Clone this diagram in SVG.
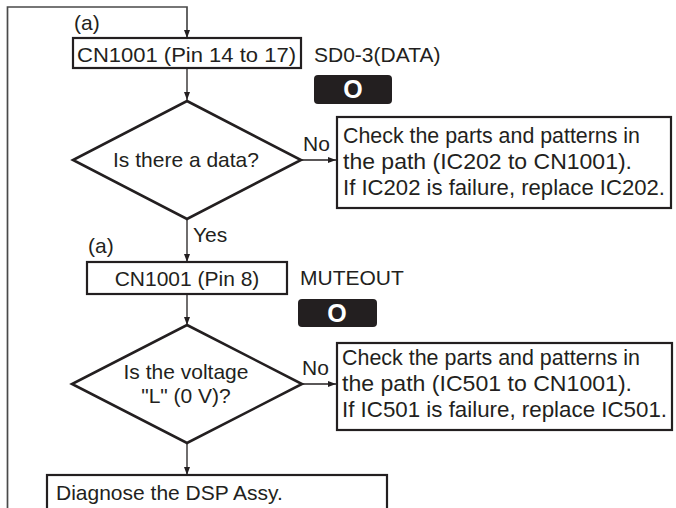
<svg xmlns="http://www.w3.org/2000/svg" width="676" height="508" viewBox="0 0 676 508">
<style>
text{font-family:"Liberation Sans",Arial,sans-serif;font-size:21px;fill:#231f20}
.bx{font-size:22px}
.box{fill:#fff;stroke:#231f20;stroke-width:2.2}
.dia{fill:#fff;stroke:#231f20;stroke-width:2.6;stroke-linejoin:miter}
.con{fill:none;stroke:#231f20;stroke-width:1.3}
.loop{stroke:#4a4a4a;stroke-width:1.7}
.badge{fill:#231f20}
.bt{fill:#fff;font-weight:bold;font-size:25px}
.mid{text-anchor:middle}
</style>
<defs>
<marker id="ah" markerWidth="8" markerHeight="6" refX="8" refY="3" orient="auto" markerUnits="userSpaceOnUse">
<path d="M0,0 L8,3 L0,6 Z" fill="#231f20"/>
</marker>
</defs>
<g id="connectors">
<path class="con loop" d="M7.5,508 V7 H187 V38" marker-end="url(#ah)"/>
<path class="con" d="M187,68 V100" marker-end="url(#ah)"/>
<path class="con" d="M301,160 H336" marker-end="url(#ah)"/>
<path class="con" d="M187,219 V262" marker-end="url(#ah)"/>
<path class="con" d="M187,294 V325" marker-end="url(#ah)"/>
<path class="con" d="M302,384 H336" marker-end="url(#ah)"/>
<path class="con" d="M187,443 V475" marker-end="url(#ah)"/>
<text x="74" y="30">(a)</text>
<text x="303" y="151">No</text>
<text x="193" y="242">Yes</text>
<text x="88" y="253">(a)</text>
<text x="302" y="375">No</text>
</g>
<g id="cn1001a">
<rect class="box" x="73" y="38" width="228" height="30"/>
<text x="77" y="62" textLength="219" lengthAdjust="spacingAndGlyphs">CN1001 (Pin 14 to 17)</text>
</g>
<g id="sd0">
<text x="314" y="62">SD0-3(DATA)</text>
<rect class="badge" x="314" y="75" width="78" height="29" rx="4"/>
<text class="bt mid" x="353" y="98">O</text>
</g>
<g id="q1">
<polygon class="dia" points="187,101 301,160 187,219 73,160"/>
<text class="mid" x="186" y="167">Is there a data?</text>
</g>
<g id="fix1">
<rect class="box" x="337" y="117" width="334" height="91"/>
<text class="bx" x="343" y="143" textLength="297" lengthAdjust="spacingAndGlyphs">Check the parts and patterns in</text>
<text class="bx" x="343" y="169" textLength="289" lengthAdjust="spacingAndGlyphs">the path (IC202 to CN1001).</text>
<text class="bx" x="343" y="195" textLength="322" lengthAdjust="spacingAndGlyphs">If IC202 is failure, replace IC202.</text>
</g>
<g id="cn1001b">
<rect class="box" x="87" y="262" width="200" height="32"/>
<text class="mid" x="187" y="286">CN1001 (Pin 8)</text>
</g>
<g id="muteout">
<text x="300" y="285">MUTEOUT</text>
<rect class="badge" x="298" y="299" width="79" height="28" rx="4"/>
<text class="bt mid" x="337" y="322">O</text>
</g>
<g id="q2">
<polygon class="dia" points="187,325 302,384 187,443 72,384"/>
<text class="mid" x="186" y="379">Is the voltage</text>
<text class="mid" x="186" y="403">"L" (0 V)?</text>
</g>
<g id="fix2">
<rect class="box" x="337" y="343" width="335" height="87"/>
<text class="bx" x="342" y="365" textLength="298" lengthAdjust="spacingAndGlyphs">Check the parts and patterns in</text>
<text class="bx" x="342" y="391" textLength="290" lengthAdjust="spacingAndGlyphs">the path (IC501 to CN1001).</text>
<text class="bx" x="342" y="417" textLength="325" lengthAdjust="spacingAndGlyphs">If IC501 is failure, replace IC501.</text>
</g>
<g id="diagnose">
<rect class="box" x="47" y="475" width="340" height="50"/>
<text x="56" y="500">Diagnose the DSP Assy.</text>
</g>
</svg>
